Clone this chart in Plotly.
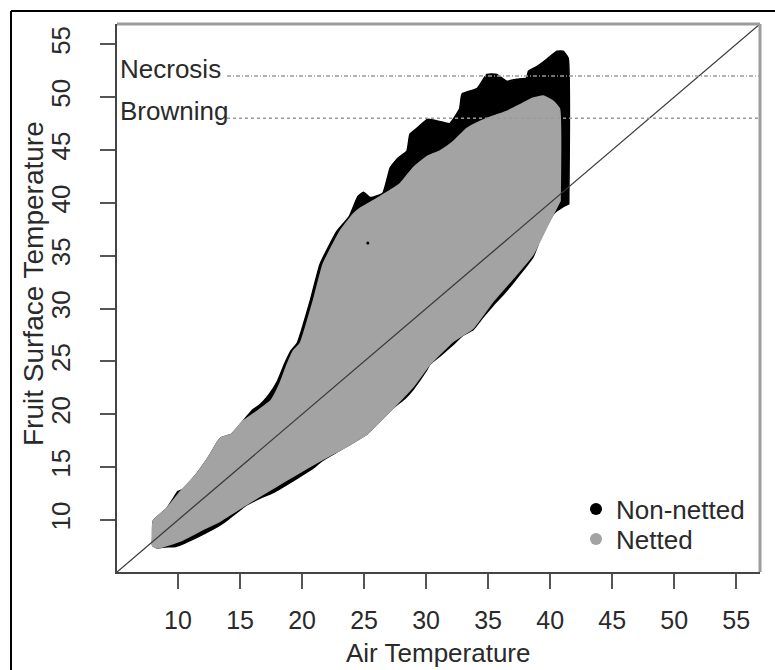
import plotly.graph_objects as go

# Envelope of the fruit-surface vs air-temperature readings (deg C)
# Non-netted fruit: upper and lower envelope, ordered by air temperature
non_netted_upper_x = [7.95, 7.95, 8.0, 9.1, 9.6, 10.0, 10.4, 11.5, 12.6, 13.2, 13.5, 14.3, 15.2,
                      16.0, 16.6, 17.3, 18.0, 18.6, 19.1, 19.6, 20.65, 21.45, 22.8, 23.8, 24.2,
                      24.5, 24.95, 25.5, 26.5, 27.1, 27.7, 28.45, 28.7, 29.3, 30.1, 31.1, 31.9,
                      32.7, 32.9, 34.1, 34.9, 35.7, 36.5, 37.3, 38.1, 38.25, 38.95, 39.75, 40.55,
                      41.05, 41.45, 41.5]
non_netted_upper_y = [7.6, 8.4, 9.9, 11.1, 12.0, 12.7, 12.9, 14.35, 16.2, 17.4, 17.8, 18.1, 19.3,
                      20.4, 20.9, 21.8, 23.1, 24.8, 26.0, 26.7, 30.7, 34.2, 37.3, 38.7, 39.8,
                      40.6, 41.0, 40.5, 40.9, 43.3, 44.2, 44.9, 46.5, 47.1, 47.9, 47.7, 47.5,
                      48.9, 50.3, 50.8, 52.15, 52.15, 51.5, 51.7, 51.8, 52.45, 52.9, 53.6, 54.35,
                      54.35, 53.7, 39.9]
non_netted_lower_x = [7.95, 8.3, 9.0, 9.8, 10.5, 11.77, 13.0, 13.8, 15.56, 16.5, 17.66, 19.6,
                      21.0, 21.6, 23.06, 25.24, 27.34, 28.3, 28.95, 30.0, 30.32, 31.2, 32.18,
                      33.0, 33.79, 34.6, 35.4, 36.2, 37.02, 37.8, 38.63, 39.2, 39.76, 40.3, 41.0,
                      41.5]
non_netted_lower_y = [7.6, 7.35, 7.45, 7.5, 7.8, 8.5, 9.25, 9.85, 11.45, 12.0, 12.6, 13.95,
                      15.0, 15.6, 16.6, 18.15, 20.6, 21.5, 22.35, 24.1, 24.75, 25.6, 26.6,
                      27.5, 28.0, 29.2, 30.3, 31.3, 32.45, 33.6, 34.9, 36.6, 37.9, 39.0, 39.6,
                      39.9]

# Netted fruit: upper and lower envelope, ordered by air temperature
netted_upper_x = [7.95, 7.95, 8.0, 9.1, 10.2, 11.5, 12.6, 13.2, 13.5, 14.3, 15.2, 16.4, 17.5,
                  18.2, 18.8, 19.3, 19.85, 20.9, 21.7, 23.06, 24.1, 24.7, 26.3, 27.9, 28.95,
                  30.1, 31.1, 32.2, 33.3, 34.35, 35.4, 36.5, 37.6, 38.6, 39.45, 40.25, 40.75, 40.8]
netted_upper_y = [7.6, 8.4, 9.9, 11.1, 12.7, 14.35, 16.2, 17.4, 17.8, 18.1, 19.3, 20.3, 21.3,
                  22.85, 24.7, 26.0, 26.7, 30.7, 34.2, 37.3, 38.9, 39.5, 40.6, 41.8, 43.3,
                  44.4, 44.9, 45.8, 47.05, 47.7, 48.2, 48.65, 49.3, 49.9, 50.1, 49.6, 48.9, 40.2]
netted_lower_x = [7.95, 8.3, 9.0, 10.16, 11.77, 13.39, 15.56, 17.66, 19.6, 21.45, 23.06, 25.24,
                  27.34, 28.95, 30.32, 32.18, 33.79, 35.4, 37.02, 38.63, 39.76, 40.8]
netted_lower_y = [7.6, 7.35, 7.55, 8.0, 8.96, 9.9, 11.5, 13.0, 14.35, 15.6, 16.6, 18.15,
                  20.6, 22.6, 24.75, 26.9, 28.15, 30.7, 32.87, 35.14, 37.8, 40.2]

# A lone non-netted reading showing inside the netted cloud
non_netted_stray_x = [25.3]
non_netted_stray_y = [36.2]

# Damage thresholds for fruit surface temperature
threshold_names = ["Necrosis", "Browning"]
threshold_values = [52, 48]

tick_values = [10, 15, 20, 25, 30, 35, 40, 45, 50, 55]
axis_range = [5.08, 56.92]

BLACK = "#000000"
GREY = "#a3a3a3"
FONT = "Liberation Sans, Arial, Helvetica, sans-serif"
TEXT_COLOR = "#2a2a2a"

W, H = 775, 670
L, R, T, B = 117, 15, 24, 98
pw, ph = W - L - R, H - T - B


def px_to_paper_x(p):
    return (p - L) / pw


def py_to_paper_y(p):
    return (H - B - p) / ph


def outline(ux, uy, lx, ly):
    """Closed polygon: along the upper envelope, back along the lower one."""
    return ux + lx[::-1], uy + ly[::-1]


fig = go.Figure()

px_, py_ = outline(non_netted_upper_x, non_netted_upper_y, non_netted_lower_x, non_netted_lower_y)
fig.add_trace(go.Scatter(x=px_, y=py_, mode="lines", fill="toself", fillcolor=BLACK,
                         line=dict(color=BLACK, width=1.5, shape="spline", smoothing=0.4),
                         showlegend=False, hoverinfo="skip"))

px_, py_ = outline(netted_upper_x, netted_upper_y, netted_lower_x, netted_lower_y)
fig.add_trace(go.Scatter(x=px_, y=py_, mode="lines", fill="toself", fillcolor=GREY,
                         line=dict(color=GREY, width=1.5, shape="spline", smoothing=0.4),
                         showlegend=False, hoverinfo="skip"))

fig.add_trace(go.Scatter(x=non_netted_stray_x, y=non_netted_stray_y, mode="markers",
                         marker=dict(color=BLACK, size=3), showlegend=False, hoverinfo="skip"))

# 1:1 line
fig.add_trace(go.Scatter(x=axis_range, y=axis_range, mode="lines",
                         line=dict(color="#3a3a3a", width=1.3),
                         showlegend=False, hoverinfo="skip"))

# Legend entries, one legend box per group
fig.add_trace(go.Scatter(x=[None], y=[None], mode="markers", name="Non-netted",
                         marker=dict(color=BLACK, size=13), legend="legend"))
fig.add_trace(go.Scatter(x=[None], y=[None], mode="markers", name="Netted",
                         marker=dict(color=GREY, size=13), legend="legend2"))

# Threshold lines with labels
for name, val, dash in zip(threshold_names, threshold_values, ["4px,2px,1px,2px", "dot"]):
    fig.add_shape(type="line", xref="x", yref="y", x0=13.95, x1=axis_range[1], y0=val, y1=val,
                  line=dict(color="#9a9a9a", width=1.6, dash=dash), layer="above")
    fig.add_annotation(x=5.2, y=val + 0.7, xref="x", yref="y", text=name, showarrow=False,
                       xanchor="left", yanchor="middle",
                       font=dict(family=FONT, size=26, color=TEXT_COLOR))

# Box: light top and right edges
fig.add_shape(type="line", xref="paper", yref="paper", x0=0, x1=1, y0=1, y1=1,
              line=dict(color="#9c9c9c", width=3), layer="above")
fig.add_shape(type="line", xref="paper", yref="paper", x0=1, x1=1, y0=0, y1=1,
              line=dict(color="#9c9c9c", width=3), layer="above")

# Outer frame (top and left)
fig.add_shape(type="line", xref="paper", yref="paper",
              x0=px_to_paper_x(11), x1=px_to_paper_x(776), y0=py_to_paper_y(11), y1=py_to_paper_y(11),
              line=dict(color="#000000", width=2))
fig.add_shape(type="line", xref="paper", yref="paper",
              x0=px_to_paper_x(11), x1=px_to_paper_x(11), y0=py_to_paper_y(11), y1=py_to_paper_y(672),
              line=dict(color="#000000", width=2))

# Axis titles
fig.add_annotation(x=px_to_paper_x(438), y=py_to_paper_y(670), xref="paper", yref="paper",
                   text="Air Temperature", showarrow=False, xanchor="center", yanchor="bottom",
                   font=dict(family=FONT, size=26, color=TEXT_COLOR))
fig.add_annotation(x=px_to_paper_x(33), y=py_to_paper_y(284), xref="paper", yref="paper",
                   text="Fruit Surface Temperature", showarrow=False, textangle=-90,
                   xanchor="center", yanchor="middle",
                   font=dict(family=FONT, size=28, color=TEXT_COLOR))

axis_common = dict(range=axis_range, tickvals=tick_values, ticks="outside", ticklen=15,
                   tickwidth=1.5, tickcolor="#555555", showgrid=False, zeroline=False,
                   showline=True, linecolor="#444444", linewidth=1.6)

fig.update_xaxes(**axis_common, ticklabelstandoff=10,
                 tickfont=dict(family=FONT, size=25, color=TEXT_COLOR))
fig.update_yaxes(**axis_common, tickangle=-90, ticklabelstandoff=20,
                 tickfont=dict(family=FONT, size=26, color=TEXT_COLOR))

legend_common = dict(xanchor="left", yanchor="middle", bgcolor="rgba(0,0,0,0)",
                     font=dict(family=FONT, size=26, color=TEXT_COLOR), itemsizing="constant")

fig.update_layout(
    width=W, height=H,
    margin=dict(l=L, r=R, t=T, b=B),
    paper_bgcolor="white", plot_bgcolor="white",
    legend=dict(x=px_to_paper_x(576), y=py_to_paper_y(509), **legend_common),
    legend2=dict(x=px_to_paper_x(576), y=py_to_paper_y(539), **legend_common),
)

fig.write_html("out.html")
